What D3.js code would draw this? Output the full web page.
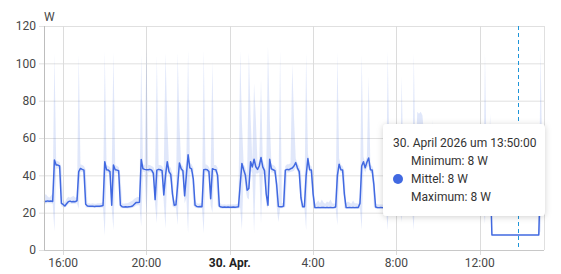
<!DOCTYPE html>
<html>
<head>
<meta charset="utf-8">
<script src="https://cdn.jsdelivr.net/npm/d3@7"></script>
<style>
  body { margin: 0; background: #fff; }
  svg { display: block; font-family: Roboto, sans-serif; }
</style>
</head>
<body>
<div id="chart"></div>
<script>
// 5 minute statistics, first point 29.04. 15:05
var startTime = new Date(2026, 3, 29, 15, 5);
var stepMinutes = 5;

var meanW = [
  26.2, 26.0, 26.3, 26.1, 26.2, 26.0, 48.2, 45.5, 45.5, 45.0, 25.0, 24.4,
  23.6, 24.8, 25.9, 26.2, 25.8, 26.0, 25.9, 26.4, 42.0, 43.7, 43.2, 42.8,
  24.5, 23.6, 23.5, 23.4, 23.5, 23.3, 23.4, 23.5, 23.4, 23.6, 23.8, 47.3,
  43.0, 42.8, 42.0, 24.0, 45.5, 43.0, 42.8, 42.5, 24.0, 23.2, 23.1, 23.2,
  23.0, 23.2, 23.3, 23.6, 24.5, 25.4, 25.5, 25.6, 48.5, 43.5, 43.2, 43.0,
  43.0, 43.2, 42.8, 41.0, 27.0, 42.8, 43.2, 43.0, 42.5, 29.5, 40.0, 47.3,
  42.0, 40.5, 30.0, 24.0, 24.2, 35.0, 46.6, 43.5, 42.5, 29.0, 40.0, 51.0,
  44.0, 43.5, 38.0, 24.0, 23.3, 23.2, 23.3, 23.2, 43.0, 43.2, 43.0, 42.0,
  27.5, 43.5, 43.2, 43.0, 40.0, 23.5, 23.0, 22.9, 23.0, 22.9, 23.0, 22.9,
  22.9, 23.0, 22.9, 23.0, 23.2, 35.0, 46.4, 43.0, 40.0, 32.0, 33.0, 47.3,
  44.5, 48.6, 44.6, 43.2, 45.0, 49.6, 44.5, 42.5, 30.0, 24.0, 48.6, 43.5,
  43.0, 42.5, 35.0, 23.3, 23.2, 23.2, 23.5, 42.8, 43.2, 43.0, 43.5, 43.9,
  45.0, 46.8, 43.9, 42.0, 28.0, 23.2, 23.2, 40.0, 49.0, 43.0, 42.8, 30.0,
  22.8, 22.7, 22.8, 22.7, 22.8, 22.8, 22.7, 22.8, 22.7, 22.8, 22.7, 22.8,
  23.0, 40.0, 46.0, 43.0, 42.8, 30.0, 22.8, 22.7, 22.8, 22.7, 22.8, 22.7,
  22.8, 22.8, 25.0, 45.0, 47.3, 44.0, 47.0, 49.3, 43.0, 42.8, 35.0, 23.0,
  22.8, 22.7, 22.8, 22.7, 22.8, 22.8, 46.0, 43.0, 42.8, 42.5, 23.0, 22.8,
  22.8, 22.9, 45.0, 43.0, 42.8, 23.0, 22.8, 22.7, 22.8, 46.0, 43.0, 44.0,
  45.0, 46.0, 45.0, 46.0, 44.0, 43.0, 42.8, 23.0, 22.8, 22.8, 22.7, 22.8,
  22.8, 22.7, 22.8, 22.8, 22.7, 22.8, 22.8, 22.7, 22.8, 22.8, 22.7, 22.8,
  22.8, 22.7, 22.8, 22.8, 22.7, 22.8, 22.8, 22.7, 22.8, 22.8, 22.7, 22.8,
  22.8, 22.8, 46.0, 43.0, 42.8, 42.5, 8.0, 8.0, 8.0, 8.0, 8.0, 8.0,
  8.0, 8.0, 8.0, 8.0, 8.0, 8.0, 8.0, 8.0, 8.0, 8.0, 8.0, 8.0,
  8.0, 8.0, 8.0, 8.0, 8.0, 8.0, 8.0, 8.0, 8.0, 8.0, 43.0, 43.2,
  43.0
];

var minW = [
  25.0, 24.8, 25.2, 25.0, 25.0, 24.8, 10.0, 43.5, 43.8, 43.0, 23.5, 23.0,
  22.8, 23.5, 24.5, 25.0, 24.6, 24.8, 24.8, 25.0, 22.0, 42.0, 41.8, 41.5,
  22.8, 22.8, 22.6, 22.6, 22.7, 22.5, 22.6, 22.7, 22.6, 22.8, 22.8, 7.5,
  41.5, 41.2, 40.0, 22.5, 10.7, 41.5, 41.2, 40.5, 22.5, 22.4, 22.3, 22.4,
  22.2, 22.4, 22.4, 22.6, 23.0, 23.8, 24.0, 24.0, 12.5, 42.0, 41.8, 18.0,
  41.5, 41.8, 41.2, 38.0, 24.0, 14.3, 41.8, 41.5, 40.8, 25.0, 11.6, 43.0,
  39.5, 38.0, 23.5, 22.8, 22.8, 13.4, 43.0, 42.0, 40.5, 25.0, 28.0, 8.9,
  42.0, 41.8, 24.0, 22.6, 22.5, 22.4, 22.5, 22.4, 8.9, 41.8, 41.5, 40.0,
  24.0, 20.0, 41.8, 41.5, 24.0, 22.5, 22.2, 22.1, 22.2, 22.1, 22.2, 22.1,
  22.1, 22.2, 22.1, 22.2, 22.3, 22.5, 10.7, 41.0, 33.0, 28.0, 27.0, 43.0,
  41.0, 8.9, 41.0, 41.0, 41.5, 14.0, 41.0, 40.0, 24.0, 22.5, 44.0, 41.5,
  41.5, 40.5, 23.5, 15.0, 22.4, 22.4, 22.5, 23.0, 41.5, 41.5, 41.8, 42.0,
  42.5, 44.0, 42.0, 40.0, 23.0, 22.4, 22.4, 10.7, 45.0, 41.5, 41.0, 22.5,
  22.0, 22.0, 22.1, 22.0, 22.1, 22.1, 22.0, 22.1, 22.0, 22.1, 22.0, 22.1,
  22.2, 13.4, 43.5, 41.5, 41.0, 22.5, 22.0, 22.0, 22.1, 22.0, 22.1, 22.0,
  22.1, 22.0, 22.2, 10.7, 44.0, 41.5, 44.0, 45.0, 41.5, 41.0, 23.0, 22.1,
  22.0, 22.0, 22.1, 22.0, 22.1, 22.1, 10.7, 41.5, 41.0, 40.0, 22.2, 22.0,
  22.0, 22.1, 15.0, 41.5, 41.0, 22.2, 22.0, 22.0, 22.0, 10.7, 41.5, 41.0,
  41.5, 42.0, 41.5, 42.0, 41.0, 41.5, 41.0, 22.2, 22.0, 22.0, 22.0, 22.0,
  22.0, 22.0, 22.1, 22.0, 22.0, 22.1, 22.0, 22.0, 22.1, 22.0, 22.0, 22.1,
  22.0, 22.0, 22.1, 22.0, 22.0, 22.1, 22.0, 22.0, 22.1, 22.0, 22.0, 22.1,
  22.0, 22.1, 14.0, 41.5, 41.0, 40.0, 8.0, 8.0, 8.0, 8.0, 8.0, 8.0,
  8.0, 8.0, 8.0, 8.0, 8.0, 8.0, 8.0, 8.0, 8.0, 8.0, 8.0, 8.0,
  8.0, 8.0, 8.0, 8.0, 8.0, 8.0, 8.0, 8.0, 8.0, 8.0, 10.0, 41.5,
  41.0
];

var maxW = [
  28.5, 30.0, 28.8, 28.0, 29.0, 30.5, 105.4, 48.0, 47.5, 47.0, 44.0, 27.0,
  25.5, 27.5, 28.5, 28.0, 28.5, 29.0, 28.0, 28.5, 104.8, 46.0, 45.5, 45.0,
  43.0, 25.0, 25.0, 24.8, 25.0, 24.8, 24.8, 25.0, 25.0, 25.2, 26.0, 106.6,
  45.5, 45.0, 44.5, 42.0, 106.0, 45.5, 45.0, 44.5, 40.0, 25.0, 24.8, 25.0,
  25.0, 25.5, 26.0, 26.5, 27.5, 28.0, 28.5, 28.0, 104.8, 46.0, 45.5, 108.0,
  45.5, 45.5, 45.0, 44.5, 42.0, 104.0, 45.5, 45.5, 45.0, 43.0, 105.7, 68.7,
  45.0, 44.0, 41.0, 26.0, 27.0, 105.7, 68.0, 46.0, 45.0, 42.0, 48.0, 107.0,
  47.0, 46.0, 44.0, 27.0, 25.0, 24.8, 25.0, 25.0, 107.0, 46.0, 45.5, 44.5,
  42.0, 100.9, 45.5, 45.5, 44.0, 26.0, 24.5, 24.4, 24.5, 24.3, 24.5, 24.4,
  24.4, 24.5, 24.4, 24.6, 25.0, 106.6, 68.5, 46.0, 44.0, 40.0, 106.0, 71.4,
  48.0, 89.3, 70.6, 46.0, 48.0, 91.5, 48.0, 45.5, 42.0, 109.0, 71.0, 46.0,
  45.5, 45.0, 43.0, 26.0, 106.8, 25.0, 25.5, 45.0, 46.0, 46.0, 46.5, 99.6,
  71.0, 49.0, 46.5, 45.0, 42.0, 25.0, 25.0, 105.4, 52.0, 45.5, 45.0, 42.0,
  24.5, 25.5, 26.5, 25.0, 27.0, 25.5, 24.8, 26.0, 25.5, 27.0, 25.0, 24.8,
  25.0, 106.0, 49.0, 45.5, 45.0, 42.0, 25.0, 26.0, 25.5, 24.8, 26.5, 25.0,
  25.0, 24.8, 28.0, 104.5, 50.0, 47.0, 50.0, 92.8, 45.5, 45.0, 42.5, 25.0,
  24.5, 24.4, 24.5, 24.4, 24.5, 24.6, 106.6, 45.5, 45.0, 45.0, 40.0, 24.5,
  24.5, 24.6, 92.8, 45.5, 45.0, 40.0, 24.5, 24.4, 24.5, 105.4, 45.5, 74.0,
  73.0, 74.0, 72.0, 60.0, 55.0, 46.0, 45.0, 40.0, 69.6, 24.5, 24.4, 24.5,
  24.5, 24.4, 24.5, 24.6, 24.4, 24.5, 24.5, 24.4, 24.5, 24.6, 24.4, 24.5,
  24.5, 24.4, 24.5, 24.6, 24.4, 24.5, 24.5, 24.4, 24.5, 24.6, 24.4, 24.5,
  24.5, 24.6, 105.4, 45.5, 45.0, 73.0, 8.0, 8.0, 8.0, 8.0, 8.0, 8.0,
  8.0, 8.0, 8.0, 8.0, 8.0, 8.0, 8.0, 8.0, 8.0, 8.0, 8.0, 8.0,
  8.0, 8.0, 8.0, 8.0, 8.0, 8.0, 8.0, 8.0, 8.0, 8.0, 108.0, 45.5,
  45.5
];

var yTicks = [0, 20, 40, 60, 80, 100, 120];
var unitLabel = "W";
var hoverTime = new Date(2026, 3, 30, 13, 50);
var tooltipTitle = "30. April 2026 um 13:50:00";
var tooltipRows = ["Minimum: 8 W", "Mittel: 8 W", "Maximum: 8 W"];

var width = 561, height = 274;
var margin = {top: 26, right: 17, bottom: 24, left: 44};
var lineColor = "#4169e1";
var textColor = "#474747";

var deLocale = d3.timeFormatLocale({
  dateTime: "%A, der %e. %B %Y, %X", date: "%d.%m.%Y", time: "%H:%M:%S",
  periods: ["AM", "PM"],
  days: ["Sonntag", "Montag", "Dienstag", "Mittwoch", "Donnerstag", "Freitag", "Samstag"],
  shortDays: ["So", "Mo", "Di", "Mi", "Do", "Fr", "Sa"],
  months: ["Januar", "Februar", "März", "April", "Mai", "Juni", "Juli", "August", "September", "Oktober", "November", "Dezember"],
  shortMonths: ["Jan", "Feb", "Mrz", "Apr", "Mai", "Jun", "Jul", "Aug", "Sep", "Okt", "Nov", "Dez"]
});
var fmtDay = deLocale.format("%-d. %b.");
var fmtHour = deLocale.format("%-H:%M");

var points = meanW.map(function(v, i) {
  return {
    t: d3.timeMinute.offset(startTime, i * stepMinutes),
    mean: v, min: minW[i], max: maxW[i]
  };
});

var x = d3.scaleTime()
  .domain([startTime, points[points.length - 1].t])
  .range([margin.left, width - margin.right]);
var y = d3.scaleLinear()
  .domain([0, 120])
  .range([height - margin.bottom, margin.top]);

var svg = d3.select("#chart").append("svg")
  .attr("width", width).attr("height", height);

var defs = svg.append("defs");
var shadow = defs.append("filter").attr("id", "shadow")
  .attr("x", "-20%").attr("y", "-20%").attr("width", "140%").attr("height", "150%");
shadow.append("feDropShadow").attr("dx", 0).attr("dy", 1)
  .attr("stdDeviation", 3).attr("flood-color", "#000").attr("flood-opacity", 0.18);

var xTicks = x.ticks(d3.timeHour.every(4));

// grid
var grid = svg.append("g");
grid.selectAll("line.h").data(yTicks).enter().append("line")
  .attr("class", "h")
  .attr("x1", margin.left - 5).attr("x2", width - margin.right)
  .attr("y1", function(d) { return y(d) + 0.5; })
  .attr("y2", function(d) { return y(d) + 0.5; })
  .attr("stroke", "#e0e0e0");
grid.selectAll("line.v").data(xTicks).enter().append("line")
  .attr("class", "v")
  .attr("x1", function(d) { return Math.round(x(d)) + 0.5; })
  .attr("x2", function(d) { return Math.round(x(d)) + 0.5; })
  .attr("y1", margin.top).attr("y2", height - margin.bottom + 5)
  .attr("stroke", "#dcdcdc");
grid.append("line")
  .attr("x1", width - margin.right + 0.5).attr("x2", width - margin.right + 0.5)
  .attr("y1", margin.top).attr("y2", height - margin.bottom)
  .attr("stroke", "#e0e0e0");

// min / max band
var band = d3.area()
  .x(function(d) { return x(d.t); })
  .y0(function(d) { return y(d.min); })
  .y1(function(d) { return y(d.max); });
svg.append("path").datum(points)
  .attr("d", band)
  .attr("fill", lineColor)
  .attr("fill-opacity", 0.16);

var meanLine = d3.line()
  .x(function(d) { return x(d.t); })
  .y(function(d) { return y(d.mean); });
svg.append("path").datum(points)
  .attr("d", meanLine)
  .attr("fill", "none")
  .attr("stroke", lineColor)
  .attr("stroke-width", 1.5)
  .attr("stroke-linejoin", "round");

// axes lines
svg.append("line")
  .attr("x1", margin.left + 0.5).attr("x2", margin.left + 0.5)
  .attr("y1", margin.top).attr("y2", height - margin.bottom)
  .attr("stroke", "#bdbdbd");
svg.append("line")
  .attr("x1", margin.left).attr("x2", width - margin.right)
  .attr("y1", height - margin.bottom + 0.5).attr("y2", height - margin.bottom + 0.5)
  .attr("stroke", "#c8c8c8");

// y labels
svg.append("g").selectAll("text").data(yTicks).enter().append("text")
  .attr("x", margin.left - 8)
  .attr("y", function(d) { return y(d); })
  .attr("dy", "0.35em")
  .attr("text-anchor", "end")
  .attr("font-size", 12)
  .attr("fill", textColor)
  .text(function(d) { return d; });
svg.append("text")
  .attr("x", margin.left)
  .attr("y", 21)
  .attr("font-size", 12)
  .attr("fill", textColor)
  .text(unitLabel);

// x labels
svg.append("g").selectAll("text").data(xTicks).enter().append("text")
  .attr("x", function(d) { return x(d); })
  .attr("y", height - 7)
  .attr("text-anchor", "middle")
  .attr("font-size", 12)
  .attr("font-weight", function(d) { return d.getHours() === 0 ? "bold" : "normal"; })
  .attr("fill", function(d) { return d.getHours() === 0 ? "#212121" : textColor; })
  .text(function(d) { return d.getHours() === 0 ? fmtDay(d) : fmtHour(d); });

// hover marker
svg.append("line")
  .attr("x1", Math.round(x(hoverTime)) + 0.5).attr("x2", Math.round(x(hoverTime)) + 0.5)
  .attr("y1", margin.top).attr("y2", height - margin.bottom)
  .attr("stroke", "#1e95d9")
  .attr("stroke-dasharray", "4,3");

// tooltip
var tip = svg.append("g").attr("transform", "translate(383,124)");
tip.append("rect")
  .attr("width", 162).attr("height", 92)
  .attr("rx", 4)
  .attr("fill", "#fff")
  .attr("filter", "url(#shadow)");
tip.append("text")
  .attr("x", 10).attr("y", 23)
  .attr("font-size", 12)
  .attr("fill", "#333")
  .text(tooltipTitle);
tip.selectAll("text.row").data(tooltipRows).enter().append("text")
  .attr("class", "row")
  .attr("x", 28)
  .attr("y", function(d, i) { return 41 + i * 18; })
  .attr("font-size", 12)
  .attr("fill", "#333")
  .text(function(d) { return d; });
tip.append("circle")
  .attr("cx", 15).attr("cy", 55)
  .attr("r", 5)
  .attr("fill", lineColor);
</script>
</body>
</html>
